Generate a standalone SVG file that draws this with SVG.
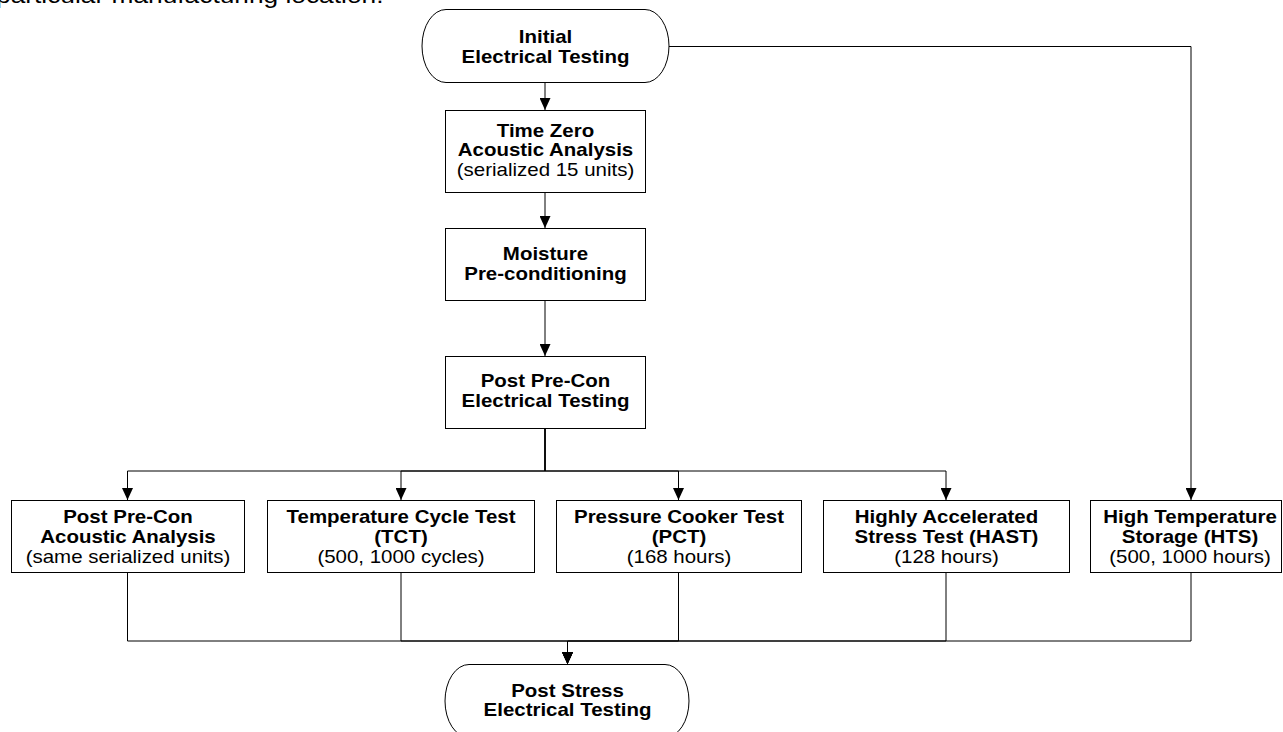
<svg xmlns="http://www.w3.org/2000/svg" width="1283" height="732" viewBox="0 0 1283 732">
<style>
.box{fill:#fff;stroke:#000;stroke-width:1}
.c{fill:none;stroke:#000;stroke-width:1}
text{font-family:"Liberation Sans",Arial,sans-serif;font-size:17.5px;fill:#000;text-anchor:middle}
.b{font-weight:bold}
.body{font-size:22.5px;text-anchor:start}
</style>
<defs>
<marker id="ah" viewBox="0 0 12 11" markerWidth="12" markerHeight="11" refX="12" refY="5.5" markerUnits="userSpaceOnUse" orient="auto">
<path d="M0,0 L12,5.5 L0,11 z" fill="#000"/>
</marker>
</defs>
<rect width="1283" height="732" fill="#fff"/>
<text class="body" transform="translate(-4 0) scale(1.17 1)" x="0" y="3">particular manufacturing location.</text>
<g id="connectors">
<path class="c" d="M545 82 V110" marker-end="url(#ah)"/>
<path class="c" d="M545 192 V228" marker-end="url(#ah)"/>
<path class="c" d="M545 301 V356" marker-end="url(#ah)"/>
<path class="c" d="M669 46.5 H1191 V500" marker-end="url(#ah)"/>
<path class="c" d="M545 428 V471 H127.5 V500" marker-end="url(#ah)"/>
<path class="c" d="M545 428 V471 H401 V500" marker-end="url(#ah)"/>
<path class="c" d="M545 428 V471 H678.5 V500" marker-end="url(#ah)"/>
<path class="c" d="M545 428 V471 H946 V500" marker-end="url(#ah)"/>
<path class="c" d="M127.5 573 V641 H567.5 V664" marker-end="url(#ah)"/>
<path class="c" d="M401 573 V641 H567.5 V664" marker-end="url(#ah)"/>
<path class="c" d="M678.5 573 V641 H567.5 V664" marker-end="url(#ah)"/>
<path class="c" d="M946 573 V641 H567.5 V664" marker-end="url(#ah)"/>
<path class="c" d="M1191 573 V641 H567.5 V664" marker-end="url(#ah)"/>
</g>
<g id="initial">
<rect class="box" x="422" y="9.5" width="247" height="73" rx="24" ry="36.5"/>
<text class="b" transform="translate(545.5 0) scale(1.17 1)"><tspan x="0" y="43">Initial</tspan><tspan x="0" y="63">Electrical Testing</tspan></text>
</g>
<g id="timezero">
<rect class="box" x="445.5" y="110.5" width="200" height="82"/>
<text transform="translate(545.5 0) scale(1.17 1)"><tspan class="b" x="0" y="137">Time Zero</tspan><tspan class="b" x="0" y="156.5">Acoustic Analysis</tspan><tspan x="0" y="176">(serialized 15 units)</tspan></text>
</g>
<g id="moisture">
<rect class="box" x="445.5" y="228.5" width="200" height="72"/>
<text class="b" transform="translate(545.5 0) scale(1.17 1)"><tspan x="0" y="260">Moisture</tspan><tspan x="0" y="280">Pre-conditioning</tspan></text>
</g>
<g id="postprecon">
<rect class="box" x="445.5" y="356.5" width="200" height="72"/>
<text class="b" transform="translate(545.5 0) scale(1.17 1)"><tspan x="0" y="387">Post Pre-Con</tspan><tspan x="0" y="407">Electrical Testing</tspan></text>
</g>
<g id="acoustic">
<rect class="box" x="11.5" y="500.5" width="233" height="72"/>
<text transform="translate(128 0) scale(1.17 1)"><tspan class="b" x="0" y="523">Post Pre-Con</tspan><tspan class="b" x="0" y="543">Acoustic Analysis</tspan><tspan x="0" y="563">(same serialized units)</tspan></text>
</g>
<g id="tct">
<rect class="box" x="267.5" y="500.5" width="267" height="72"/>
<text transform="translate(401 0) scale(1.17 1)"><tspan class="b" x="0" y="523">Temperature Cycle Test</tspan><tspan class="b" x="0" y="543">(TCT)</tspan><tspan x="0" y="563">(500, 1000 cycles)</tspan></text>
</g>
<g id="pct">
<rect class="box" x="556.5" y="500.5" width="245" height="72"/>
<text transform="translate(679 0) scale(1.17 1)"><tspan class="b" x="0" y="523">Pressure Cooker Test</tspan><tspan class="b" x="0" y="543">(PCT)</tspan><tspan x="0" y="563">(168 hours)</tspan></text>
</g>
<g id="hast">
<rect class="box" x="823.5" y="500.5" width="246" height="72"/>
<text transform="translate(946.5 0) scale(1.17 1)"><tspan class="b" x="0" y="523">Highly Accelerated</tspan><tspan class="b" x="0" y="543">Stress Test (HAST)</tspan><tspan x="0" y="563">(128 hours)</tspan></text>
</g>
<g id="hts">
<rect class="box" x="1090.5" y="500.5" width="191" height="72"/>
<text transform="translate(1190 0) scale(1.17 1)"><tspan class="b" x="0" y="523">High Temperature</tspan><tspan class="b" x="0" y="543">Storage (HTS)</tspan><tspan x="0" y="563">(500, 1000 hours)</tspan></text>
</g>
<g id="poststress">
<rect class="box" x="445" y="664.5" width="244" height="73" rx="24" ry="36.5"/>
<text class="b" transform="translate(567.5 0) scale(1.17 1)"><tspan x="0" y="697">Post Stress</tspan><tspan x="0" y="716">Electrical Testing</tspan></text>
</g>
</svg>
